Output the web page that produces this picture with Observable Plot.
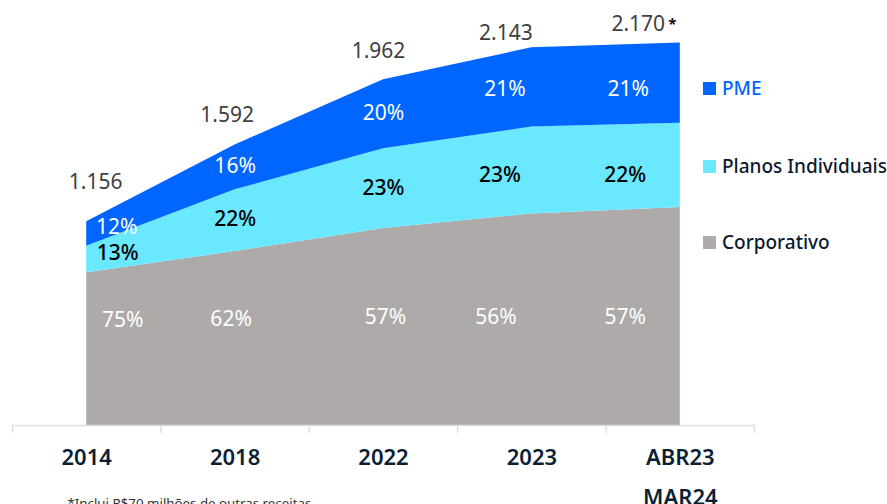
<!DOCTYPE html>
<html><head><meta charset="utf-8">
<script src="https://cdn.jsdelivr.net/npm/d3@7"></script>
<script src="https://cdn.jsdelivr.net/npm/@observablehq/plot@0.6"></script>
<style>
html,body{margin:0;padding:0;background:#fff;overflow:hidden}
#wrap{position:relative;width:887px;height:504px}
#legend{position:absolute;left:703px;top:0;font-family:"Noto Sans",sans-serif;font-size:19px;font-weight:500}
.item{position:absolute;left:0;display:flex;align-items:center;white-space:nowrap;transform:translateY(-50%)}
.sw{width:13px;height:13px;margin-right:6px;flex:none}
</style></head>
<body><div id="wrap"><div id="legend"></div></div>
<script>
// ---- data ----
const categories = ["2014", "2018", "2022", "2023", "ABR23\nMAR24"];
const totals = [1156, 1592, 1962, 2143, 2170];
const totalLabels = ["1.156", "1.592", "1.962", "2.143", "2.170"];
const corporativo = [75, 62, 57, 56, 57];
const planosIndividuais = [13, 22, 23, 23, 22];
const pme = [12, 16, 20, 21, 21];
const seriesNames = ["Corporativo", "Planos Individuais", "PME"];
const footnote = "*Inclui R$70 milhões de outras receitas";

// ---- styles / layout ----
const seriesColors = ["#aeaaa9", "#69e8ff", "#0066ff"];
const legendOrder = ["PME", "Planos Individuais", "Corporativo"];
const legendTextColor = {"PME": "#0066ff", "Planos Individuais": "#0b1a2c", "Corporativo": "#0b1a2c"};
const legendY = [88, 166, 242];
const totalNudge = [[9, -39], [-8, -30], [-5, -28], [-26, -15], [-42, -19]];
const pctNudge = {
  "PME": [[30, -7], [0, -1], [0, -1], [-27, 2], [-52, 6]],
  "Planos Individuais": [[31, -6], [0, -1], [0, 0], [-32, 5], [-55, 10]],
  "Corporativo": [[36, -99], [-4, -100], [2, -102], [-36, -102], [-55, -102]]
};
const pctFill = {"PME": "#ffffff", "Planos Individuais": "#000000", "Corporativo": "#ffffff"};

// ---- table ----
const shares = [corporativo, planosIndividuais, pme];
const table = [];
categories.forEach((c, i) => {
  let cum = 0;
  seriesNames.forEach((s, k) => {
    const value = totals[i] * shares[k][i] / 100;
    table.push({i, category: c, series: s, share: shares[k][i], value, mid: cum + value / 2});
    cum += value;
  });
});
const idx = categories.map((c, i) => i);
const boundaries = d3.range(-0.5, categories.length, 1);

const marks = [
  Plot.areaY(table, {x: "i", y: "value", fill: "series", z: "series"}),
  Plot.ruleY([0], {stroke: "#dedede", strokeWidth: 1.5}),
  Plot.axisX(boundaries, {tickSize: 8, stroke: "#dedede", strokeWidth: 1.5, tickFormat: () => "", label: null}),
  Plot.text(idx, {
    x: d => d, y: () => 0, text: d => categories[d], dy: 11, lineAnchor: "top", lineHeight: 1.82,
    fontSize: 22, fontWeight: 600, fill: "#0b1f35"
  }),
  Plot.text([footnote], {
    frameAnchor: "bottom-left", text: d => d, dx: 55, dy: 82, textAnchor: "start",
    fontSize: 13.3, fill: "#333"
  })
];

idx.forEach(i => {
  marks.push(Plot.text([i], {
    x: d => d, y: d => totals[d], text: d => totalLabels[d],
    dx: totalNudge[i][0], dy: totalNudge[i][1], fontSize: 21, fill: "#404040"
  }));
  seriesNames.forEach(s => {
    const rows = table.filter(d => d.i === i && d.series === s);
    const opts = {
      x: "i", text: d => d.share + "%", fill: pctFill[s], fontSize: 21,
      fontWeight: s === "Planos Individuais" ? 500 : 400,
      dx: pctNudge[s][i][0], dy: pctNudge[s][i][1]
    };
    if (s === "Corporativo") opts.frameAnchor = "bottom"; else opts.y = "mid";
    marks.push(Plot.text(rows, opts));
  });
});
marks.push(Plot.text([totals.length - 1], {
  x: d => d, y: d => totals[d], text: () => "*", dx: -8, dy: -19,
  fontSize: 15, fontWeight: 700, fill: "#111"
}));

const chart = Plot.plot({
  width: 887, height: 504,
  marginLeft: 12, marginRight: 133, marginTop: 2, marginBottom: 79,
  x: {type: "linear", domain: [-0.5, categories.length - 0.5]},
  y: {domain: [0, 2400], axis: null},
  color: {domain: seriesNames, range: seriesColors},
  style: {fontFamily: '"Noto Sans", sans-serif', background: "transparent"},
  marks
});
document.getElementById("wrap").prepend(chart);

const legend = document.getElementById("legend");
legendOrder.forEach((s, k) => {
  const item = document.createElement("div");
  item.className = "item";
  item.style.top = legendY[k] + "px";
  const sw = document.createElement("div");
  sw.className = "sw";
  sw.style.background = seriesColors[seriesNames.indexOf(s)];
  const t = document.createElement("span");
  t.textContent = s;
  t.style.color = legendTextColor[s];
  item.append(sw, t);
  legend.append(item);
});
</script>
</body></html>
